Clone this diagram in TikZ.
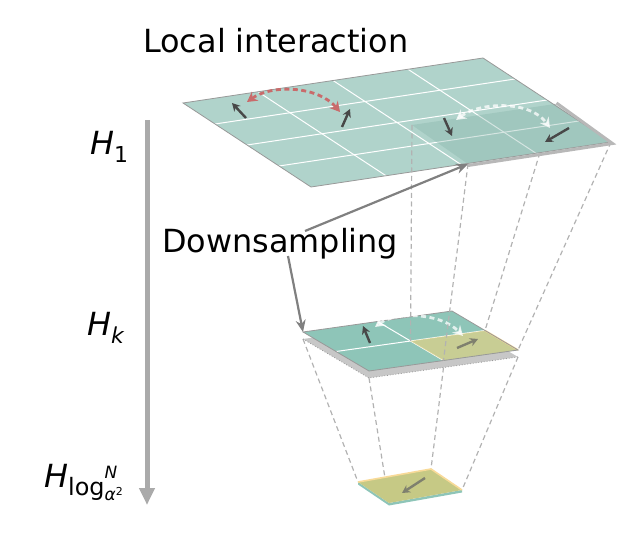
\documentclass[tikz,border=0pt]{standalone}
\usepackage{fontspec}
\setmainfont{DejaVu Sans}
\usetikzlibrary{calc,arrows.meta}

\definecolor{tealtop}{HTML}{B0D3CB}
\definecolor{tealmid}{HTML}{8EC5B8}
\definecolor{tealbox}{HTML}{7FAFA4}
\definecolor{sandy}{HTML}{DCD088}
\definecolor{olive}{HTML}{C6C985}
\definecolor{peach}{HTML}{F8DA98}
\definecolor{rosy}{HTML}{C96B6B}
\definecolor{ink}{HTML}{484848}
\definecolor{stone}{HTML}{AAAAAA}
\definecolor{mud}{HTML}{7F806E}

\tikzset{
  face/.style={draw=black!40, line width=0.8bp},
  cellline/.style={white, line width=1bp},
  spin/.style={ink, line width=2.4bp, -{Stealth[length=8bp,width=8.5bp]}},
  hop/.style={line width=2.8bp, dash pattern=on 5bp off 3.5bp,
    {Stealth[length=10bp,width=11bp]}-{Stealth[length=10bp,width=11bp]}},
  proj/.style={black!30, line width=1.2bp, dash pattern=on 5bp off 3.5bp},
  pointer/.style={black!50, line width=2.2bp, -{Stealth[length=12bp,width=10bp]}},
  lbl/.style={inner sep=0pt, font=\fontsize{32}{38}\selectfont},
}

\begin{document}
\begin{tikzpicture}[x=1bp,y=-1bp]

\useasboundingbox (0,0) rectangle (641,534) ;

\coordinate (pt_l1) at (183,103) ;
\coordinate (pt_t1) at (483,58) ;
\coordinate (pt_r1) at (611,142) ;
\coordinate (pt_b1) at (311,187) ;

\coordinate (pt_bx_l) at (412,125) ;
\coordinate (pt_bx_t) at (555,104) ;
\coordinate (pt_bx_b) at (468,164) ;

\coordinate (pt_l2) at (303,332) ;
\coordinate (pt_t2) at (452,311) ;
\coordinate (pt_r2) at (518,350) ;
\coordinate (pt_b2) at (369,371) ;
\coordinate (pt_c2) at (410.5,341) ;
\coordinate (pt_tr2) at ($(pt_t2)!0.5!(pt_r2)$) ;
\coordinate (pt_rb2) at ($(pt_r2)!0.5!(pt_b2)$) ;

\coordinate (pt_l3) at (358,482) ;
\coordinate (pt_t3) at (431,469) ;
\coordinate (pt_r3) at (462,490) ;
\coordinate (pt_b3) at (389,503) ;

% middle to bottom
\draw[proj] ($(pt_l2)+(0,7)$) -- (pt_l3) ;
\draw[proj] ($(pt_b2)+(0,7)$) -- (pt_b3) ;
\draw[proj] ($(pt_rb2)+(0,7)$) -- (pt_t3) ;
\draw[proj] ($(pt_r2)+(0,7)$) -- (pt_r3) ;

\fill[tealmid] ($(pt_l3)+(0,2.5)$) -- ($(pt_b3)+(0,2.5)$) -- ($(pt_r3)+(0,2.5)$) -- (pt_r3) -- (pt_b3) -- (pt_l3) -- cycle ;
\fill[olive] (pt_l3) -- (pt_t3) -- (pt_r3) -- (pt_b3) -- cycle ;
\draw[peach, line width=1.6bp] (pt_l3) -- (pt_t3) -- (pt_r3) ;
\draw[spin, mud] (425,478) -- (402,493) ;

% middle grid
\fill[black!22] ($(pt_l2)+(0,7)$) -- ($(pt_t2)+(0,7)$) -- ($(pt_r2)+(0,7)$) -- ($(pt_b2)+(0,7)$) -- cycle ;
\draw[black!40, dotted, line width=0.8bp] ($(pt_l2)+(0,7)$) -- ($(pt_b2)+(0,7)$) -- ($(pt_r2)+(0,7)$) ;
\fill[tealmid] (pt_l2) -- (pt_t2) -- (pt_r2) -- (pt_b2) -- cycle ;
\draw[cellline] ($(pt_l2)!0.5!(pt_t2)$) -- (pt_rb2) ;
\draw[cellline] ($(pt_l2)!0.5!(pt_b2)$) -- (pt_tr2) ;
\fill[sandy, opacity=0.75] (pt_c2) -- (pt_tr2) -- (pt_r2) -- (pt_rb2) -- cycle ;
\draw[peach, line width=1.6bp] (pt_tr2) -- (pt_r2) ;
\draw[face] (pt_l2) -- (pt_t2) -- (pt_r2) -- (pt_b2) -- cycle ;

\draw[spin] (370,343) -- (363,326) ;
\draw[spin, mud] (457,348) -- (478,339) ;
\draw[hop, white, opacity=0.75] (375,327) .. controls (395,312) and (440,312) .. (463,336) ;

% top to middle
\draw[proj] (pt_bx_b) -- (pt_rb2) ;
\draw[proj] (pt_bx_t) -- (pt_tr2) ;
\draw[proj] (pt_r1) -- (pt_r2) ;

% top grid
\fill[tealtop] (pt_l1) -- (pt_t1) -- (pt_r1) -- (pt_b1) -- cycle ;
\draw[cellline] ($(pt_l1)!0.25!(pt_t1)$) -- ($(pt_b1)!0.25!(pt_r1)$) ;
\draw[cellline] ($(pt_l1)!0.5!(pt_t1)$) -- ($(pt_b1)!0.5!(pt_r1)$) ;
\draw[cellline] ($(pt_l1)!0.75!(pt_t1)$) -- ($(pt_b1)!0.75!(pt_r1)$) ;
\draw[cellline] ($(pt_l1)!0.25!(pt_b1)$) -- ($(pt_t1)!0.25!(pt_r1)$) ;
\draw[cellline] ($(pt_l1)!0.5!(pt_b1)$) -- ($(pt_t1)!0.5!(pt_r1)$) ;
\draw[cellline] ($(pt_l1)!0.75!(pt_b1)$) -- ($(pt_t1)!0.75!(pt_r1)$) ;
\fill[tealbox, opacity=0.32] (pt_bx_l) -- (pt_bx_t) -- (pt_r1) -- (pt_bx_b) -- cycle ;
\draw[face] (pt_l1) -- (pt_t1) -- (pt_r1) -- (pt_b1) -- cycle ;
\draw[black!28, line width=3bp, line join=miter] ([shift={(1.5,-1)}]pt_bx_t) -- ([shift={(1.5,1.5)}]pt_r1) -- ([shift={(0,1.5)}]pt_bx_b) ;

\draw[proj] (pt_bx_l) -- (pt_c2) ;

\draw[spin] (246,118) -- (232,103) ;
\draw[spin] (342,127) -- (350,109) ;
\draw[spin] (444,118) -- (452,136) ;
\draw[spin] (569,128) -- (545,142) ;
\draw[hop, rosy] (247,102) .. controls (272,84) and (318,86) .. (340,112) ;
\draw[hop, white, opacity=0.75] (456,120) .. controls (480,102) and (530,100) .. (550,128) ;

% labels
\node[lbl, anchor=base west] (txt_local) at (143,53) {Local interaction} ;
\node[lbl, anchor=base west] (txt_down) at (162,253) {Downsampling} ;
\coordinate (pt_ds_a) at (305,231) ;
\coordinate (pt_ds_b) at (288,256) ;
\draw[pointer] (pt_ds_a) -- (pt_bx_b) ;
\draw[pointer] (pt_ds_b) -- (pt_l2) ;

\draw[stone, line width=5bp, -{Triangle[length=17bp,width=15bp]}] (147,120) -- (147,505) ;

\node[lbl, anchor=base west] (lbl_h1) at (90,155) {\itshape H\raisebox{-8bp}{\fontsize{22}{22}\selectfont\upshape 1}} ;
\node[lbl, anchor=base west] (lbl_hk) at (87,335) {\itshape H\raisebox{-8bp}{\fontsize{22}{22}\selectfont k}} ;
\node[lbl, anchor=base west] (lbl_hl) at (44,487) {\itshape H\upshape\raisebox{-8bp}{\fontsize{24}{24}\selectfont log}\makebox[0pt][l]{\raisebox{9bp}{\fontsize{17}{17}\selectfont\itshape N}}\raisebox{-13bp}{\fontsize{17}{17}\selectfont\itshape α\upshape\raisebox{5bp}{\fontsize{11}{11}\selectfont 2}}} ;

\end{tikzpicture}
\end{document}
